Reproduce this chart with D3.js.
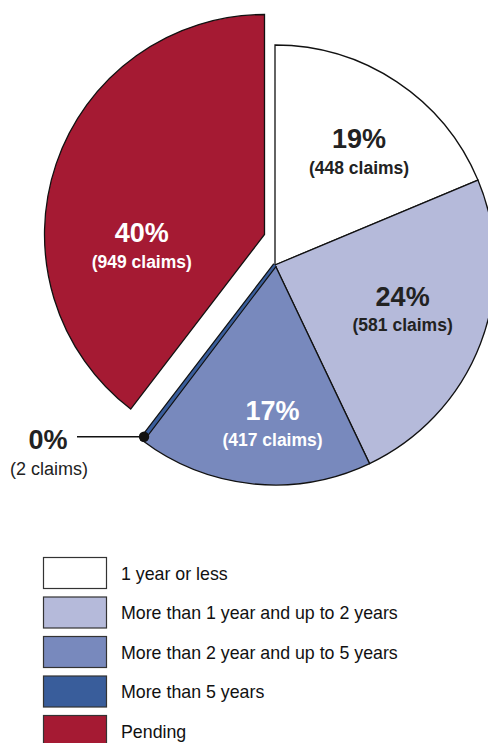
<!DOCTYPE html>
<html>
<head>
<meta charset="utf-8">
<script src="https://cdn.jsdelivr.net/npm/d3@7"></script>
<style>
  html, body { margin: 0; padding: 0; background: #fff; }
  svg { display: block; }
  text { font-family: "Liberation Sans", Arial, Helvetica, sans-serif; }
</style>
</head>
<body>
<svg id="chart" width="488" height="743"></svg>
<script>
// Claim durations
const categories = [
  "1 year or less",
  "More than 1 year and up to 2 years",
  "More than 2 year and up to 5 years",
  "More than 5 years",
  "Pending"
];
const claims = [448, 581, 417, 2, 949];
const colors = ["#ffffff", "#b5bada", "#7889bd", "#395d9b", "#a51a33"];
const labelColors = ["#222222", "#222222", "#ffffff", "#222222", "#ffffff"];

const svg = d3.select("#chart");
const cx = 275, cy = 265, R = 220;

const total = d3.sum(claims);
const pct = v => Math.round(v / total * 100) + "%";

const pie = d3.pie().sort(null).value(d => d).startAngle(0).endAngle(2 * Math.PI);
const arcs = pie(claims);
const arc = d3.arc().innerRadius(0).outerRadius(R);
const labelArc = d3.arc().innerRadius(150).outerRadius(150);

// the pending slice is pulled out from the pie
const explode = [[0, 0], [0, 0], [0, 0], [0, 0], [-10.5, -30.5]];
// fine placement of the in-slice labels around their centroids
const nudge = [[1, 8], [-12.5, -13], [12.8, 5.8], null, [19.3, 55.7]];

const g = svg.append("g").attr("transform", `translate(${cx},${cy})`);

g.selectAll("path.slice")
  .data(arcs)
  .join("path")
  .attr("class", "slice")
  .attr("d", arc)
  .attr("transform", (d, i) => `translate(${explode[i][0]},${explode[i][1]})`)
  .attr("fill", (d, i) => colors[i])
  .attr("stroke", "#111")
  .attr("stroke-width", 1.3)
  .attr("stroke-linejoin", "miter");

// the very thin slice: outlined band so its colour stays visible
const thin = arcs[3];
const thinArc = d3.arc().innerRadius(0).outerRadius(R - 1);
g.append("path")
  .attr("d", thinArc(thin))
  .attr("fill", "none")
  .attr("stroke", "#111")
  .attr("stroke-width", 4.6)
  .attr("stroke-linejoin", "bevel");
g.append("path")
  .attr("d", thinArc(thin))
  .attr("fill", colors[3])
  .attr("stroke", colors[3])
  .attr("stroke-width", 2.2)
  .attr("stroke-linejoin", "bevel");

// in-slice labels
arcs.forEach((d, i) => {
  if (!nudge[i]) return;
  const c = labelArc.centroid(d);
  const x = c[0] + explode[i][0] + nudge[i][0];
  const y = c[1] + explode[i][1] + nudge[i][1];
  g.append("text")
    .attr("x", x).attr("y", y)
    .attr("text-anchor", "middle")
    .attr("font-size", 27).attr("font-weight", "bold")
    .attr("fill", labelColors[i])
    .text(pct(claims[i]));
  g.append("text")
    .attr("x", x).attr("y", y + 25.5)
    .attr("text-anchor", "middle")
    .attr("font-size", 17.5).attr("font-weight", "bold")
    .attr("fill", labelColors[i])
    .text(`(${claims[i]} claims)`);
});

// callout for the thin slice
const tip = d3.arc().innerRadius(216).outerRadius(216).centroid(thin);
const leaderEndX = 77 - cx;
g.append("line")
  .attr("x1", leaderEndX).attr("y1", tip[1])
  .attr("x2", tip[0]).attr("y2", tip[1])
  .attr("stroke", "#111").attr("stroke-width", 1.3);
g.append("circle")
  .attr("cx", tip[0]).attr("cy", tip[1]).attr("r", 5.2)
  .attr("fill", "#111");
g.append("text")
  .attr("x", 48 - cx).attr("y", tip[1] + 12)
  .attr("text-anchor", "middle")
  .attr("font-size", 27).attr("font-weight", "bold")
  .attr("fill", "#222")
  .text(pct(claims[3]));
g.append("text")
  .attr("x", 49 - cx).attr("y", tip[1] + 38)
  .attr("text-anchor", "middle")
  .attr("font-size", 18)
  .attr("fill", "#222")
  .text(`(${claims[3]} claims)`);

// legend
const legendY = d3.scaleBand().domain(d3.range(categories.length)).range([557, 557 + 39.5 * categories.length]).paddingInner(0);
const legend = svg.append("g");
const rows = legend.selectAll("g.row")
  .data(categories)
  .join("g")
  .attr("class", "row")
  .attr("transform", (d, i) => `translate(0,${legendY(i)})`);
rows.append("rect")
  .attr("x", 43.5).attr("y", 0.5)
  .attr("width", 63).attr("height", 31)
  .attr("fill", (d, i) => colors[i])
  .attr("stroke", "#333").attr("stroke-width", 1.2);
rows.append("text")
  .attr("x", 121).attr("y", 22.5)
  .attr("font-size", 17.8)
  .attr("fill", "#111")
  .text(d => d);
</script>
</body>
</html>
